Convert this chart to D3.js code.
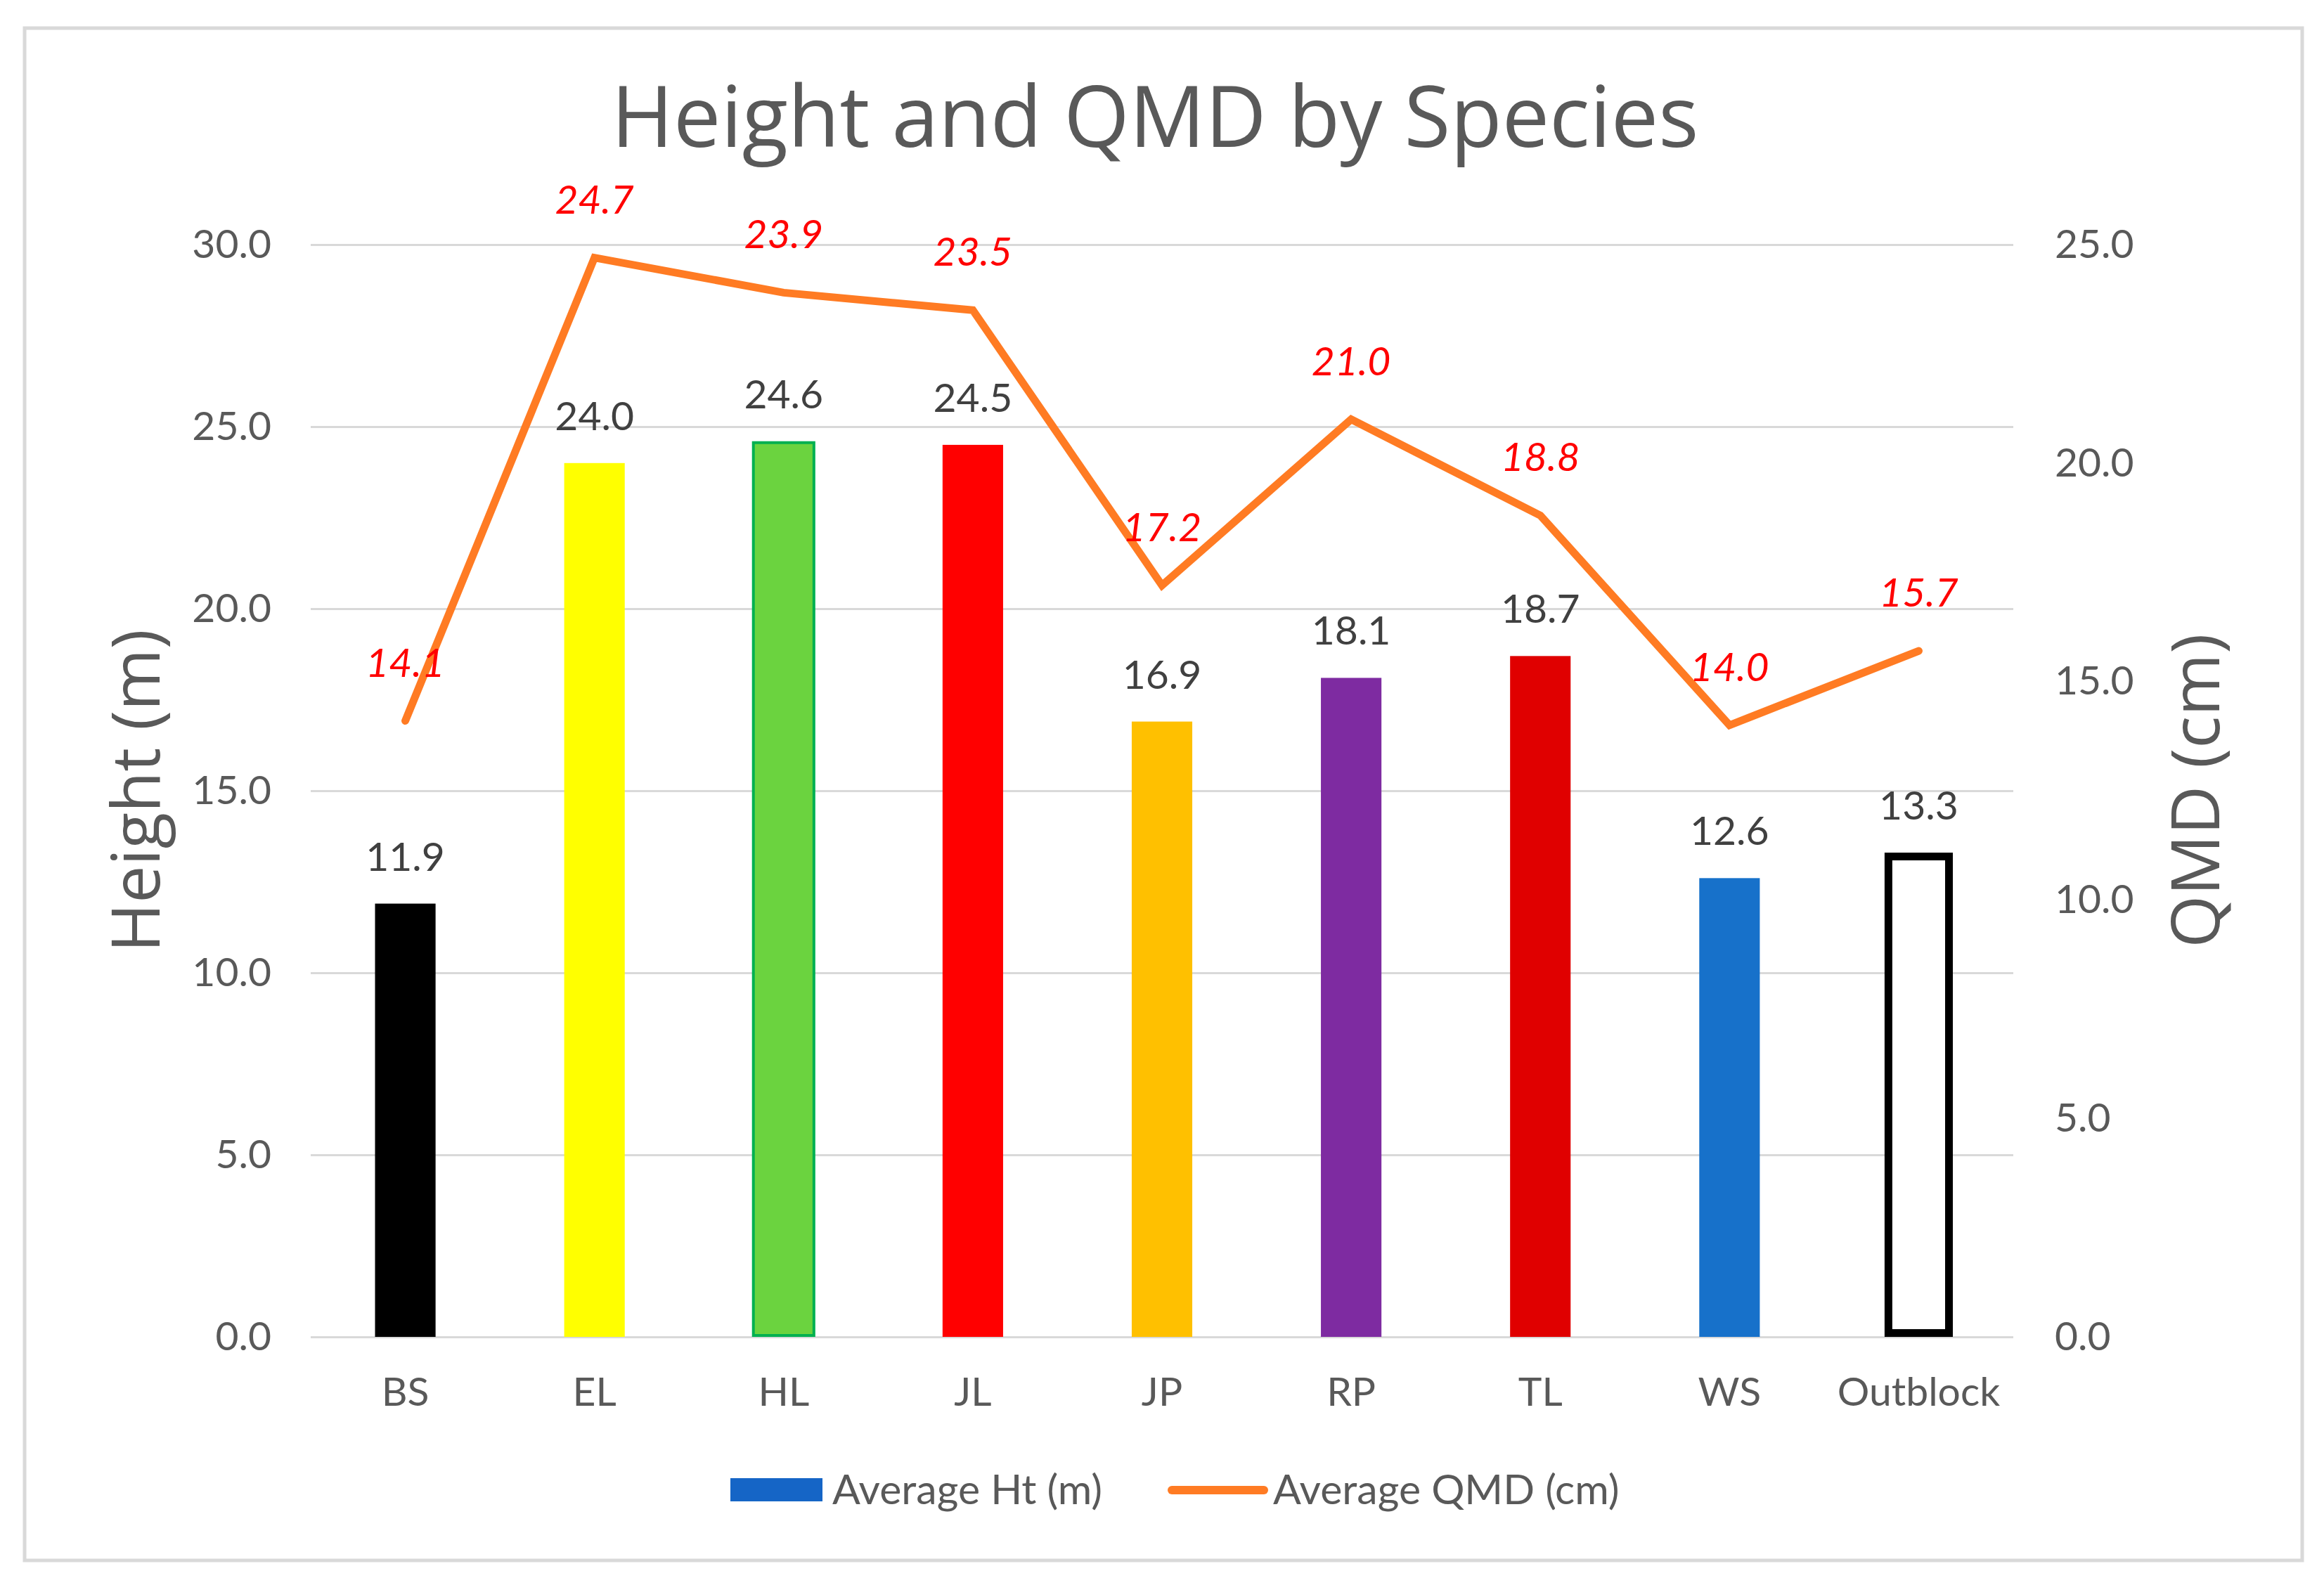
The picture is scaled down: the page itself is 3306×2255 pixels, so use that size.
<!DOCTYPE html>
<html>
<head>
<meta charset="utf-8">
<script src="https://cdn.jsdelivr.net/npm/d3@7"></script>
<style>
  body { margin: 0; background: #ffffff; }
  text { font-family: Lato, "Open Sans", sans-serif; }
  .title, .aTitle { font-family: "Open Sans", Lato, sans-serif; }
</style>
</head>
<body>
<div id="chart"></div>
<script>
// chart data
var species = ["BS", "EL", "HL", "JL", "JP", "RP", "TL", "WS", "Outblock"];
var avgHeight = [11.9, 24.0, 24.6, 24.5, 16.9, 18.1, 18.7, 12.6, 13.3];
var avgQMD = [14.1, 24.7, 23.9, 23.5, 17.2, 21.0, 18.8, 14.0, 15.7];
var heightTicks = [0, 5, 10, 15, 20, 25, 30];
var qmdTicks = [0, 5, 10, 15, 20, 25];
var seriesNames = ["Average Ht (m)", "Average QMD (cm)"];

// bar styling per species
var barFill = ["#000000", "#FFFF00", "#6BD33F", "#FF0000", "#FFC000", "#7E2BA1", "#E00000", "#1771CA", "#FFFFFF"];
var barStroke = ["none", "none", "#00B050", "none", "none", "none", "none", "none", "#000000"];
var barStrokeW = [0, 0, 4, 0, 0, 0, 0, 0, 11];

var svgWidth = 3306;
var svgHeight = 2255;
var labelSize = 57;

var plot = { left: 442, right: 2864, top: 348, bottom: 1902 };

var svg = d3.select("#chart")
  .append("svg")
  .attr("width", svgWidth)
  .attr("height", svgHeight);

svg.append("rect")
  .attr("width", svgWidth)
  .attr("height", svgHeight)
  .attr("fill", "#ffffff");

// outer chart frame
svg.append("rect")
  .attr("x", 35)
  .attr("y", 40)
  .attr("width", 3240)
  .attr("height", 2180)
  .attr("fill", "#ffffff")
  .attr("stroke", "#d9d9d9")
  .attr("stroke-width", 5);

// scales
var xScale = d3.scaleBand()
  .domain(species)
  .range([plot.left, plot.right])
  .paddingInner(0.68)
  .paddingOuter(0.34);

var yLeft = d3.scaleLinear()
  .domain([0, 30])
  .range([plot.bottom, plot.top]);

var yRight = d3.scaleLinear()
  .domain([0, 25])
  .range([plot.bottom, plot.top]);

var fmt = d3.format(".1f");
var cx = d => xScale(d) + xScale.bandwidth() / 2;

// gridlines + left axis labels
var leftAxis = d3.axisLeft(yLeft)
  .tickValues(heightTicks)
  .tickFormat(fmt)
  .tickSize(-(plot.right - plot.left))
  .tickPadding(56);

var gLeft = svg.append("g")
  .attr("transform", `translate(${plot.left}, 0)`)
  .call(leftAxis);
gLeft.select(".domain").remove();
gLeft.selectAll(".tick line")
  .attr("stroke", "#d9d9d9")
  .attr("stroke-width", 3);
gLeft.selectAll(".tick text")
  .attr("font-size", labelSize)
  .attr("fill", "#595959")
  .attr("font-family", "Lato");

// right axis labels
var rightAxis = d3.axisRight(yRight)
  .tickValues(qmdTicks)
  .tickFormat(fmt)
  .tickSize(0)
  .tickPadding(59);

var gRight = svg.append("g")
  .attr("transform", `translate(${plot.right}, 0)`)
  .call(rightAxis);
gRight.select(".domain").remove();
gRight.selectAll(".tick text")
  .attr("font-size", labelSize)
  .attr("fill", "#595959")
  .attr("font-family", "Lato");

// category axis
var bottomAxis = d3.axisBottom(xScale)
  .tickSize(0)
  .tickPadding(58);

var gBottom = svg.append("g")
  .attr("transform", `translate(0, ${plot.bottom})`)
  .call(bottomAxis);
gBottom.select(".domain").remove();
gBottom.selectAll(".tick text")
  .attr("font-size", labelSize)
  .attr("fill", "#595959")
  .attr("font-family", "Lato");

// bars (border kept inside the value range vertically)
svg.append("g")
  .selectAll("rect")
  .data(species)
  .enter()
  .append("rect")
  .attr("x", d => xScale(d))
  .attr("y", (d, i) => yLeft(avgHeight[i]) + barStrokeW[i] / 2)
  .attr("width", xScale.bandwidth())
  .attr("height", (d, i) => yLeft(0) - yLeft(avgHeight[i]) - barStrokeW[i])
  .attr("fill", (d, i) => barFill[i])
  .attr("stroke", (d, i) => barStroke[i])
  .attr("stroke-width", (d, i) => barStrokeW[i]);

// bar value labels
svg.append("g")
  .selectAll("text")
  .data(species)
  .enter()
  .append("text")
  .attr("x", d => cx(d))
  .attr("y", (d, i) => yLeft(avgHeight[i]) - 47)
  .attr("text-anchor", "middle")
  .attr("font-size", labelSize)
  .attr("fill", "#404040")
  .text((d, i) => fmt(avgHeight[i]));

// QMD line
var line = d3.line()
  .x(d => cx(d))
  .y((d, i) => yRight(avgQMD[i]));

svg.append("path")
  .datum(species)
  .attr("d", line)
  .attr("fill", "none")
  .attr("stroke", "#FF7B23")
  .attr("stroke-width", 11)
  .attr("stroke-linecap", "round")
  .attr("stroke-linejoin", "miter");

// QMD labels
svg.append("g")
  .selectAll("text")
  .data(species)
  .enter()
  .append("text")
  .attr("x", d => cx(d))
  .attr("y", (d, i) => yRight(avgQMD[i]) - 63)
  .attr("text-anchor", "middle")
  .attr("font-size", labelSize)
  .attr("font-style", "italic")
  .attr("fill", "#FF0000")
  .text((d, i) => fmt(avgQMD[i]));

// title
svg.append("text")
  .attr("class", "title")
  .attr("x", 1643)
  .attr("y", 209)
  .attr("text-anchor", "middle")
  .attr("font-size", 120)
  .attr("fill", "#595959")
  .text("Height and QMD by Species");

// axis titles
var midY = (plot.top + plot.bottom) / 2;
svg.append("text")
  .attr("class", "aTitle")
  .attr("transform", `translate(227, ${midY}) rotate(-90)`)
  .attr("text-anchor", "middle")
  .attr("font-size", 95)
  .attr("fill", "#595959")
  .text("Height (m)");

svg.append("text")
  .attr("class", "aTitle")
  .attr("transform", `translate(3157, ${midY}) rotate(-90)`)
  .attr("text-anchor", "middle")
  .attr("font-size", 96)
  .attr("fill", "#595959")
  .text("QMD (cm)");

// legend
var legend = svg.append("g");
legend.append("rect")
  .attr("x", 1039)
  .attr("y", 2103)
  .attr("width", 131)
  .attr("height", 33)
  .attr("fill", "#1565C6");
legend.append("text")
  .attr("x", 1184)
  .attr("y", 2140)
  .attr("font-size", 59)
  .attr("fill", "#595959")
  .text(seriesNames[0]);
legend.append("line")
  .attr("x1", 1667)
  .attr("x2", 1798)
  .attr("y1", 2120)
  .attr("y2", 2120)
  .attr("stroke", "#FF7B23")
  .attr("stroke-width", 12)
  .attr("stroke-linecap", "round");
legend.append("text")
  .attr("x", 1811)
  .attr("y", 2140)
  .attr("font-size", 59)
  .attr("fill", "#595959")
  .text(seriesNames[1]);
</script>
</body>
</html>
